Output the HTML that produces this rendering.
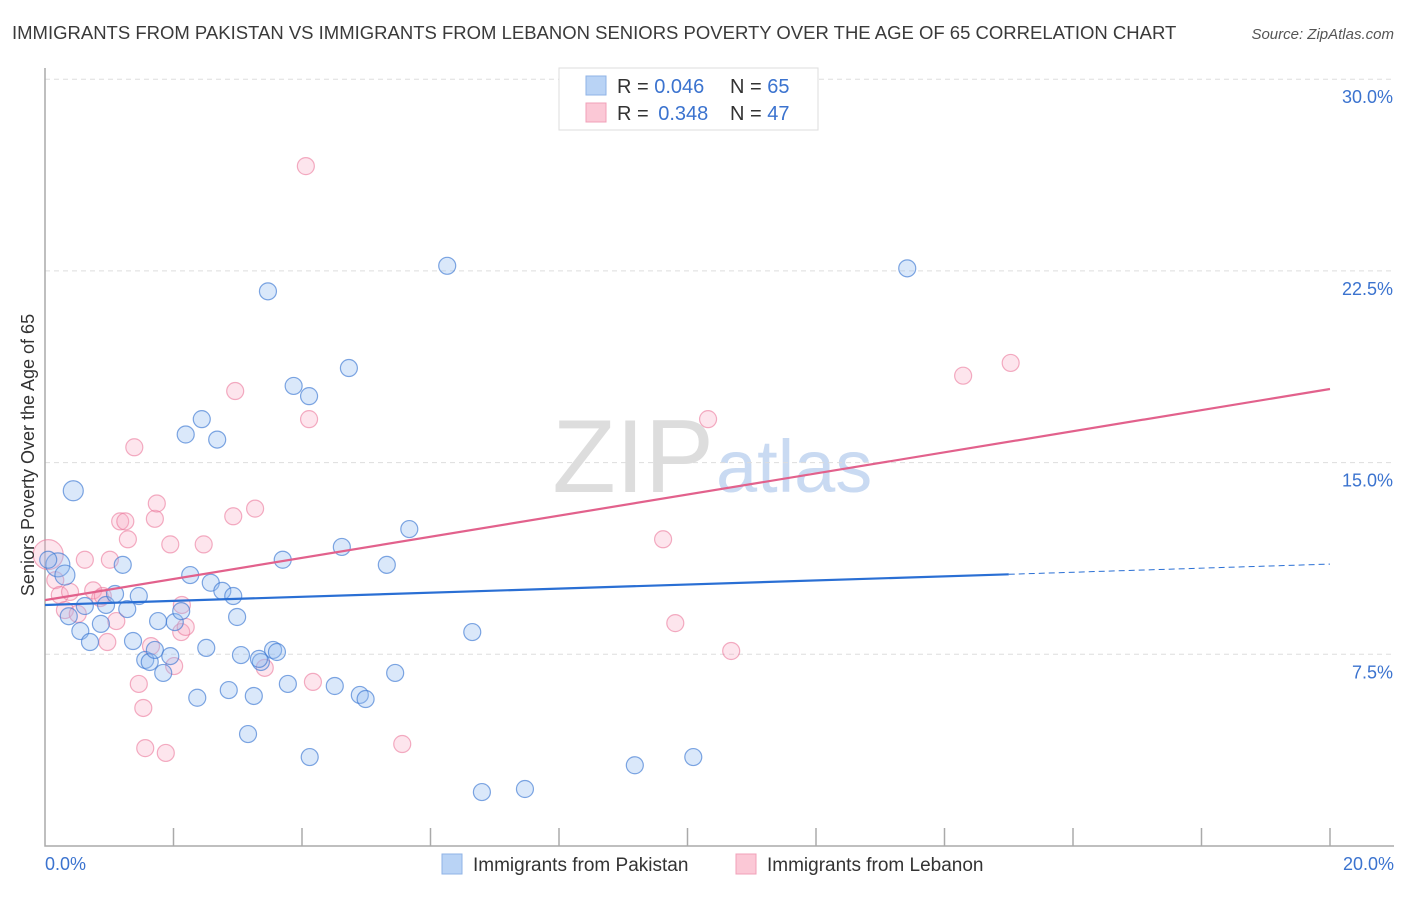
<!DOCTYPE html>
<html><head><meta charset="utf-8"><style>
body{margin:0;background:#fff;font-family:"Liberation Sans",sans-serif}
svg text{font-family:"Liberation Sans",sans-serif}
</style></head><body>
<svg width="1406" height="892">
<text x="12" y="39" font-size="18.5" fill="#3a3a3a">IMMIGRANTS FROM PAKISTAN VS IMMIGRANTS FROM LEBANON SENIORS POVERTY OVER THE AGE OF 65 CORRELATION CHART</text>
<text x="1394" y="39" font-size="15" fill="#555" font-style="italic" text-anchor="end">Source: ZipAtlas.com</text>
<text x="714" y="492" font-size="104" fill="#ddd" text-anchor="end" font-family="Liberation Serif">ZIP</text>
<text x="716" y="492" font-size="74" fill="#c9daf2">atlas</text>
<g id="grid"></g>
<g id="axes"></g>
<g id="marks"></g>
<text transform="translate(34,455) rotate(-90)" font-size="18" fill="#333" text-anchor="middle">Seniors Poverty Over the Age of 65</text>
<g>
<rect x="559" y="68" width="259" height="62" fill="#fff" stroke="#ddd"/>
<rect x="586" y="76" width="20" height="19" fill="#b9d3f5" stroke="#8fb3e6"/>
<rect x="586" y="103" width="20" height="19" fill="#fbc8d6" stroke="#f0a0b8"/>
<text x="617" y="93" font-size="20" fill="#333">R = <tspan fill="#3b73cf">0.046</tspan></text>
<text x="730" y="93" font-size="20" fill="#333">N = <tspan fill="#3b73cf">65</tspan></text>
<text x="617" y="120" font-size="20" fill="#333">R = <tspan fill="#3b73cf" dx="4">0.348</tspan></text>
<text x="730" y="120" font-size="20" fill="#333">N = <tspan fill="#3b73cf">47</tspan></text>
</g>
<g>
<rect x="442" y="854" width="20" height="20" fill="#b9d3f5" stroke="#8fb3e6"/>
<text x="473" y="871" font-size="19" fill="#333">Immigrants from Pakistan</text>
<rect x="736" y="854" width="20" height="20" fill="#fbc8d6" stroke="#f0a0b8"/>
<text x="767" y="871" font-size="19" fill="#333">Immigrants from Lebanon</text>
</g>
</svg>
<script>
const yTicks=[7.5,15.0,22.5,30.0];
const yTickLabels=["7.5%","15.0%","22.5%","30.0%"];
const xEndLabels=["0.0%","20.0%"];
const pakX=[0.2,0.44,0.31,0.05,1.21,0.37,0.55,0.70,0.87,0.62,0.95,1.09,1.28,1.46,1.37,1.56,1.63,1.71,1.84,1.76,1.95,2.02,2.12,2.26,2.19,2.44,2.68,2.37,2.51,2.58,2.76,2.93,2.99,2.86,3.05,3.16,3.25,3.36,3.33,3.47,3.55,3.61,3.70,3.78,3.87,4.11,4.12,4.51,4.62,4.73,4.90,4.99,5.32,5.45,5.67,6.26,6.65,6.80,7.47,9.18,10.09,13.42];
const pakY=[11.0,13.9,10.6,11.2,11.0,8.99,8.41,7.98,8.69,9.39,9.43,9.86,9.27,9.78,8.02,7.28,7.20,7.67,6.77,8.80,7.43,8.76,9.19,10.6,16.1,16.7,15.9,5.80,7.75,10.3,9.98,9.78,8.96,6.10,7.47,4.38,5.87,7.20,7.32,21.7,7.67,7.59,11.2,6.34,18.0,17.6,3.48,6.26,11.7,18.7,5.91,5.75,11.0,6.77,12.4,22.7,8.37,2.11,2.23,3.16,3.48,22.6];
const pakR=[12,10,10,8.5,8.5,8.5,8.5,8.5,8.5,8.5,8.5,8.5,8.5,8.5,8.5,8.5,8.5,8.5,8.5,8.5,8.5,8.5,8.5,8.5,8.5,8.5,8.5,8.5,8.5,8.5,8.5,8.5,8.5,8.5,8.5,8.5,8.5,8.5,8.5,8.5,8.5,8.5,8.5,8.5,8.5,8.5,8.5,8.5,8.5,8.5,8.5,8.5,8.5,8.5,8.5,8.5,8.5,8.5,8.5,8.5,8.5,8.5];
const lebX=[0.05,0.16,0.23,0.39,0.31,0.51,0.62,0.75,0.86,0.90,1.01,1.11,0.97,1.17,1.25,1.29,1.39,1.46,1.53,1.56,1.65,1.71,1.74,1.88,1.95,2.01,2.13,2.12,2.19,2.47,2.93,2.96,3.27,3.42,4.06,4.11,4.17,5.56,9.62,9.81,10.32,10.68,14.29,15.03];
const lebY=[11.4,10.4,9.82,9.94,9.23,9.08,11.2,10.0,9.70,9.78,11.2,8.80,7.98,12.7,12.7,12.0,15.6,6.34,5.40,3.83,7.82,12.8,13.4,3.64,11.8,7.04,9.43,8.37,8.57,11.8,12.9,17.8,13.2,6.97,26.6,16.7,6.42,3.99,12.0,8.72,16.7,7.63,18.4,18.9];
const pakTrend=[9.43,11.03];
const lebTrend=[9.62,17.88];
const NS='http://www.w3.org/2000/svg';
const X0=45,X1=1330,Y0=846,YS=25.56;
const xs=v=>X0+(X1-X0)*v/20, ys=v=>Y0-v*YS;
function mk(t,a,p){const e=document.createElementNS(NS,t);for(const k in a)e.setAttribute(k,a[k]);document.getElementById(p).appendChild(e);return e;}
yTicks.forEach((t,i)=>{
 const g=mk('line',{x1:X0,x2:1394,y1:ys(t),y2:ys(t),stroke:'#ddd','stroke-dasharray':'5,4'},'grid');
 
 
 const l=mk('text',{x:1393,y:ys(t)+24,'font-size':18,fill:'#3b73cf','text-anchor':'end'},'grid');
 l.textContent=yTickLabels[i];
 
 
});
const ax=mk('path',{d:`M${X0},68V${Y0}H1394`,fill:'none',stroke:'#aaa','stroke-width':1.5},'axes');


for(let v=2;v<=20;v+=2){const t=mk('line',{x1:xs(v),x2:xs(v),y1:Y0-18,y2:Y0,stroke:'#aaa','stroke-width':1.5},'axes');
 
 }
[0,20].forEach((v,i)=>{const l=mk('text',{x:i?1394:45,y:870,'font-size':18,fill:'#3b73cf','text-anchor':i?'end':'start'},'axes');
 l.textContent=xEndLabels[i];
 
 });
lebX.forEach((x,i)=>{const c=mk('circle',{cx:xs(x),cy:ys(lebY[i]),r:i==0?15:8.5,fill:'rgba(248,170,195,0.3)',stroke:'rgba(235,120,155,0.6)','stroke-width':1.2},'marks');
 
 });
pakX.forEach((x,i)=>{const c=mk('circle',{cx:xs(x),cy:ys(pakY[i]),r:pakR[i],fill:'rgba(150,190,240,0.35)',stroke:'rgba(60,120,210,0.65)','stroke-width':1.2},'marks');
 
 });
const py15=pakTrend[0]+(pakTrend[1]-pakTrend[0])*15/20;
const b1=mk('line',{x1:xs(0),y1:ys(pakTrend[0]),x2:xs(15),y2:ys(py15),stroke:'#2a6fd4','stroke-width':2.2},'marks');


const b2=mk('line',{x1:xs(15),y1:ys(py15),x2:xs(20),y2:ys(pakTrend[1]),stroke:'#2a6fd4','stroke-width':1,'stroke-dasharray':'6,4'},'marks');


const p1=mk('line',{x1:xs(0),y1:ys(lebTrend[0]),x2:xs(20),y2:ys(lebTrend[1]),stroke:'#e2618c','stroke-width':2.2},'marks');


</script>
</body></html>
